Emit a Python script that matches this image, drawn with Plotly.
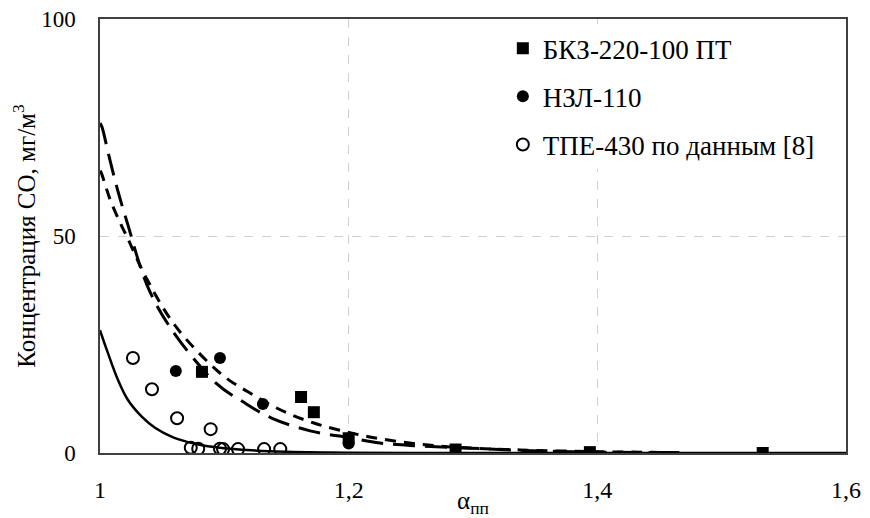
import plotly.graph_objects as go

# --- markers ---
bkz_alpha = [1.082, 1.1617, 1.172, 1.200, 1.286, 1.394, 1.533]
bkz_co = [18.7, 12.9, 9.4, 3.4, 0.8, 0.2, 0.0]

nzl_alpha = [1.061, 1.0965, 1.131, 1.200]
nzl_co = [18.9, 21.9, 11.3, 2.2]

tpe_alpha = [1.0265, 1.0418, 1.062, 1.089, 1.073, 1.079, 1.0965, 1.099, 1.111, 1.132, 1.145]
tpe_co = [21.9, 14.7, 8.0, 5.5, 1.2, 1.0, 1.0, 0.9, 0.9, 0.9, 0.9]

# --- curves ---
long_alpha = [1.0, 1.0016, 1.0064, 1.0137, 1.0225, 1.0378, 1.0563, 1.0933, 1.115, 1.1376, 1.169, 1.201, 1.225, 1.257, 1.298, 1.338, 1.402, 1.466]
long_co = [76.0, 75.1, 69.4, 61.1, 52.5, 38.7, 29.0, 16.1, 11.8, 8.1, 5.1, 3.5, 2.3, 1.6, 1.1, 0.6, 0.2, 0.1]

short_alpha = [1.0, 1.0008, 1.008, 1.016, 1.0217, 1.038, 1.060, 1.0877, 1.1038, 1.119, 1.137, 1.154, 1.172, 1.192, 1.217, 1.249, 1.282, 1.338, 1.402, 1.466]
short_co = [65.0, 64.7, 58.5, 53.2, 49.8, 39.9, 29.5, 20.7, 16.8, 14.1, 11.1, 8.8, 6.9, 5.3, 3.7, 2.3, 1.4, 0.7, 0.3, 0.1]

solid_alpha = [1.0, 1.0008, 1.0064, 1.0145, 1.0225, 1.0338, 1.0442, 1.0579, 1.0708, 1.082, 1.1046, 1.137, 1.185, 1.25, 1.6]
solid_co = [28.3, 27.6, 23.0, 16.8, 12.2, 8.3, 5.8, 3.7, 2.5, 1.8, 1.0, 0.4, 0.1, 0.0, 0.0]

x_tickvals = [1.0, 1.2, 1.4, 1.6]
x_ticktext = ["1", "1,2", "1,4", "1,6"]
y_tickvals = [0, 50, 100]
y_ticktext = ["0", "50", "100"]

FONT = "Liberation Serif"

fig = go.Figure()

fig.add_trace(go.Scatter(x=long_alpha, y=long_co, mode="lines", showlegend=False,
                         line=dict(color="black", width=3, dash="22px,10px", shape="spline")))
fig.add_trace(go.Scatter(x=short_alpha, y=short_co, mode="lines", showlegend=False,
                         line=dict(color="black", width=3, dash="11px,8px", shape="spline")))
fig.add_trace(go.Scatter(x=solid_alpha, y=solid_co, mode="lines", showlegend=False,
                         line=dict(color="black", width=2.5, shape="spline")))

fig.add_trace(go.Scatter(x=bkz_alpha, y=bkz_co, mode="markers", name="БКЗ-220-100 ПТ",
                         legendgroup="a",
                         marker=dict(symbol="square", size=12, color="black")))
fig.add_trace(go.Scatter(x=nzl_alpha, y=nzl_co, mode="markers", name="НЗЛ-110",
                         legendgroup="b",
                         marker=dict(symbol="circle", size=12, color="black")))
fig.add_trace(go.Scatter(x=tpe_alpha, y=tpe_co, mode="markers", name="ТПЕ-430 по данным [8]",
                         legendgroup="c",
                         marker=dict(symbol="circle-open", size=12, color="black",
                                     line=dict(width=2, color="black"))))

# the page body adds an 8px offset, so the figure is sized/margined to compensate
fig.update_layout(
    width=862, height=510,
    margin=dict(l=92, r=24, t=11, b=65),
    paper_bgcolor="white", plot_bgcolor="white",
    separators=", ",
    font=dict(family=FONT, size=24, color="black"),
    legend=dict(x=0.540, y=0.988, xanchor="left", yanchor="top",
                bgcolor="white", font=dict(family=FONT, size=27, color="black"),
                tracegroupgap=10, itemsizing="trace"),
    xaxis=dict(range=[1, 1.6], tickvals=x_tickvals, ticktext=x_ticktext,
               showgrid=True, gridcolor="#d0d0d0", griddash="dash", gridwidth=1,
               showline=True, linecolor="#404040", linewidth=1.5, mirror=True,
               ticks="", ticklabelstandoff=14, zeroline=False, automargin=False,
               ticklabeloverflow="allow",
               tickfont=dict(family=FONT, size=24),
               title=dict(text="α<sub>пп</sub>", font=dict(family=FONT, size=25), standoff=8)),
    yaxis=dict(range=[0, 100], tickvals=y_tickvals, ticktext=y_ticktext,
               showgrid=True, gridcolor="#d0d0d0", griddash="dash", gridwidth=1,
               showline=True, linecolor="#404040", linewidth=1.5, mirror=True,
               ticks="", ticklabelstandoff=18, zeroline=False, automargin=False,
               ticklabeloverflow="allow",
               tickfont=dict(family=FONT, size=23),
               title=dict(text="Концентрация СО, мг/м<sup>3</sup>", font=dict(family=FONT, size=25), standoff=10)),
)

fig.write_html("out.html")
